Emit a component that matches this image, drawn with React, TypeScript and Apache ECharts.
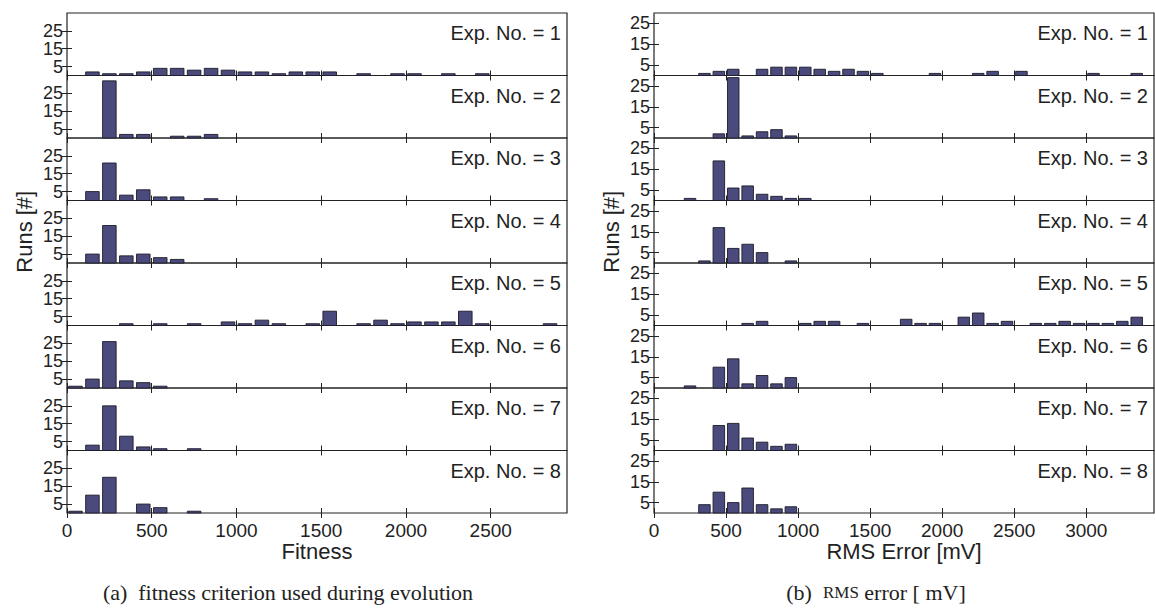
import React, { useEffect, useRef } from "react";
import * as echarts from "echarts";

// ---- data: [bin centre, number of runs] ----
const fitnessExp1 = [[150,2],[250,1],[350,1],[450,2],[550,4],[650,4],[750,3],[850,4],[950,3],[1050,2],[1150,2],[1250,1],[1350,2],[1450,2],[1550,2],[1750,1],[1950,1],[2050,1],[2250,1],[2450,1]];
const fitnessExp2 = [[250,32],[350,2],[450,2],[650,1],[750,1],[850,2]];
const fitnessExp3 = [[150,5],[250,21],[350,3],[450,6],[550,2],[650,2],[850,1]];
const fitnessExp4 = [[150,5],[250,21],[350,4],[450,5],[550,3],[650,2]];
const fitnessExp5 = [[350,1],[550,1],[750,1],[950,2],[1050,1],[1150,3],[1250,1],[1450,1],[1550,8],[1750,1],[1850,3],[1950,1],[2050,2],[2150,2],[2250,2],[2350,8],[2450,1],[2850,1]];
const fitnessExp6 = [[50,1],[150,5],[250,26],[350,4],[450,3],[550,1]];
const fitnessExp7 = [[150,3],[250,25],[350,8],[450,2],[550,1],[750,1]];
const fitnessExp8 = [[50,1],[150,10],[250,20],[450,5],[550,3],[750,1]];

const rmsExp1 = [[350,1],[450,2],[550,3],[750,3],[850,4],[950,4],[1050,4],[1150,3],[1250,2],[1350,3],[1450,2],[1550,1],[1950,1],[2250,1],[2350,2],[2550,2],[3050,1],[3350,1]];
const rmsExp2 = [[450,2],[550,29],[650,1],[750,3],[850,4],[950,1]];
const rmsExp3 = [[250,1],[450,19],[550,6],[650,7],[750,3],[850,2],[950,1],[1050,1]];
const rmsExp4 = [[350,1],[450,17],[550,7],[650,9],[750,5],[950,1]];
const rmsExp5 = [[650,1],[750,2],[1050,1],[1150,2],[1250,2],[1450,1],[1750,3],[1850,1],[1950,1],[2150,4],[2250,6],[2350,1],[2450,2],[2650,1],[2750,1],[2850,2],[2950,1],[3050,1],[3150,1],[3250,2],[3350,4]];
const rmsExp6 = [[250,1],[450,10],[550,14],[650,2],[750,6],[850,2],[950,5]];
const rmsExp7 = [[450,12],[550,13],[650,6],[750,4],[850,2],[950,3]];
const rmsExp8 = [[350,4],[450,10],[550,5],[650,12],[750,4],[850,2],[950,3]];

const fitnessRuns = [fitnessExp1, fitnessExp2, fitnessExp3, fitnessExp4, fitnessExp5, fitnessExp6, fitnessExp7, fitnessExp8];
const rmsRuns = [rmsExp1, rmsExp2, rmsExp3, rmsExp4, rmsExp5, rmsExp6, rmsExp7, rmsExp8];

const fitnessTicks = [0, 500, 1000, 1500, 2000, 2500];
const rmsTicks = [0, 500, 1000, 1500, 2000, 2500, 3000];
const runTicks = [5, 15, 25];
const expLabels = ["Exp. No. = 1", "Exp. No. = 2", "Exp. No. = 3", "Exp. No. = 4", "Exp. No. = 5", "Exp. No. = 6", "Exp. No. = 7", "Exp. No. = 8"];
const binWidth = 100;

// ---- style ----
const FRAME = "#222222";
const TEXT = "#222222";
const BAR = "#4b4a7c";
const BAR_EDGE = "#1c1c2a";
const SANS = "Liberation Sans";
const SERIF = "Liberation Serif";

function buildOption() {
  const panels = [
    { runs: fitnessRuns, xMax: 2950, yMax: 35, left: 67, ticks: fitnessTicks, name: "Fitness" },
    { runs: rmsRuns, xMax: 3470, yMax: 30, left: 654, ticks: rmsTicks, name: "RMS Error [mV]" },
  ];
  const PW = 500;
  const TOP = 13;
  const SH = 62.5;
  const grid: any[] = [];
  const xAxis: any[] = [];
  const yAxis: any[] = [];
  const series: any[] = [];
  const graphic: any[] = [];
  const plain = (v: number) => String(v);

  panels.forEach((p) => {
    p.runs.forEach((data, i) => {
      const g = grid.length;
      const top = TOP + SH * i;
      grid.push({
        left: p.left, top, width: PW, height: SH,
        show: true, borderColor: FRAME, borderWidth: 1.2, backgroundColor: "transparent",
        containLabel: false, outerBoundsMode: "none",
      });
      const tickStyle = { color: FRAME, width: 1 };
      xAxis.push({
        type: "value", gridIndex: g, min: 0, max: p.xMax, position: "bottom",
        axisLine: { show: false }, splitLine: { show: false },
        axisTick: { show: true, inside: true, length: 5, interval: 0, customValues: p.ticks, lineStyle: tickStyle },
        axisLabel: {
          show: i === 7, customValues: p.ticks, interval: 0, hideOverlap: false, formatter: plain,
          margin: 8, fontSize: 19, fontFamily: SANS, color: TEXT,
        },
        name: i === 7 ? p.name : "", nameLocation: "middle", nameGap: 26,
        nameTextStyle: { fontSize: 22, fontFamily: SANS, color: TEXT },
      });
      xAxis.push({
        type: "value", gridIndex: g, min: 0, max: p.xMax, position: "top",
        axisLine: { show: false }, splitLine: { show: false },
        axisTick: { show: true, inside: true, length: 5, interval: 0, customValues: p.ticks, lineStyle: tickStyle },
        axisLabel: { show: false },
      });
      yAxis.push({
        type: "value", gridIndex: g, min: 0, max: p.yMax, position: "left",
        axisLine: { show: false }, splitLine: { show: false },
        axisTick: { show: true, inside: true, length: 5, interval: 0, customValues: runTicks, lineStyle: tickStyle },
        axisLabel: {
          show: true, customValues: runTicks, interval: 0, hideOverlap: false, formatter: plain,
          margin: 4, fontSize: 18, fontFamily: SANS, color: TEXT,
        },
        name: i === 3 ? "Runs [#]" : "", nameLocation: "middle", nameGap: 32, nameRotate: 90,
        nameTextStyle: { fontSize: 22, fontFamily: SANS, color: TEXT },
      });
      yAxis.push({
        type: "value", gridIndex: g, min: 0, max: p.yMax, position: "right",
        axisLine: { show: false }, splitLine: { show: false },
        axisTick: { show: true, inside: true, length: 5, interval: 0, customValues: runTicks, lineStyle: tickStyle },
        axisLabel: { show: false },
      });
      series.push({
        type: "custom",
        xAxisIndex: 2 * g,
        yAxisIndex: 2 * g,
        data,
        renderItem: (params: any, api: any) => {
          const x = api.value(0);
          const y = api.value(1);
          const half = binWidth * 0.4;
          const p0 = api.coord([x - half, y]);
          const p1 = api.coord([x + half, 0]);
          return {
            type: "rect",
            shape: { x: p0[0], y: p0[1], width: p1[0] - p0[0], height: p1[1] - p0[1] },
            style: { fill: BAR, stroke: BAR_EDGE, lineWidth: 0.9 },
          };
        },
      });
      graphic.push({
        type: "text",
        x: p.left + PW - 6,
        y: top + 20,
        style: {
          text: expLabels[i], fontSize: 20, fontFamily: SANS, fill: TEXT,
          align: "right", verticalAlign: "middle", textAlign: "right", textVerticalAlign: "middle",
        },
      });
    });
  });

  graphic.push({
    type: "text", x: 288, y: 592,
    style: {
      text: "(a)\u00a0\u00a0fitness criterion used during evolution",
      fontSize: 22, fontFamily: SERIF, fill: TEXT,
      align: "center", verticalAlign: "middle", textAlign: "center", textVerticalAlign: "middle",
    },
  });
  graphic.push({
    type: "text", x: 876, y: 592,
    style: {
      text: "{t|(b)\u00a0\u00a0}{s|RMS}{t|\u00a0error [\u00a0mV]}",
      rich: {
        t: { fontSize: 22, fontFamily: SERIF, fill: TEXT, color: TEXT },
        s: { fontSize: 17, fontFamily: SERIF, fill: TEXT, color: TEXT },
      },
      align: "center", verticalAlign: "middle", textAlign: "center", textVerticalAlign: "middle",
    },
  });

  return {
    animation: false,
    backgroundColor: "#ffffff",
    grid, xAxis, yAxis, series, graphic,
  };
}

export default function App() {
  const ref = useRef<HTMLDivElement>(null);
  useEffect(() => {
    if (!ref.current) return;
    const chart = echarts.init(ref.current, undefined, { renderer: "svg" });
    chart.setOption(buildOption() as any);
    return () => chart.dispose();
  }, []);
  return (
    <div
      ref={ref}
      style={{ position: "absolute", left: 0, top: 0, width: 1155, height: 608, background: "#fff" }}
    />
  );
}
